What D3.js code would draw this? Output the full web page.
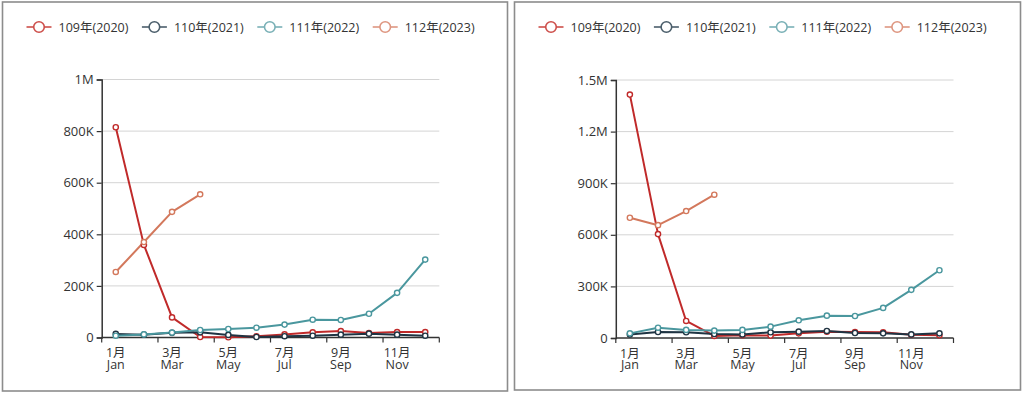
<!DOCTYPE html>
<html><head><meta charset="utf-8">
<script src="https://cdn.jsdelivr.net/npm/d3@7/dist/d3.min.js"></script>
<style>
html,body{margin:0;padding:0;background:#fff;}
svg{display:block;font-family:"Open Sans","Noto Sans CJK SC",sans-serif;}
</style></head>
<body>
<svg id="c" width="1024" height="394"></svg>
<script>
const monthsZh = ["1月","2月","3月","4月","5月","6月","7月","8月","9月","10月","11月","12月"];
const monthsEn = ["Jan","Feb","Mar","Apr","May","Jun","Jul","Aug","Sep","Oct","Nov","Dec"];
const seriesNames = ["109年(2020)","110年(2021)","111年(2022)","112年(2023)"];
const lineColors = ["#c02a2a","#1f3443","#4a979e","#d3785c"];
const legendColors = ["#cd4e4a","#4b5e6b","#79b0b6","#de9680"];

// Left chart values
const left2020 = [815000,359000,78000,2000,1000,5000,12000,20000,25000,17000,21000,21000];
const left2021 = [14000,11000,18000,20000,10000,2000,5000,7000,11000,15000,11000,7000];
const left2022 = [7000,12000,19000,29000,33000,38000,50000,69000,68000,92000,173000,302000];
const left2023 = [254000,370000,487000,555000];
const leftTicks = [0,200000,400000,600000,800000,1000000];
const leftTickLabels = ["0","200K","400K","600K","800K","1M"];

// Right chart values
const right2020 = [1415000,604000,99000,12000,16000,14000,27000,37000,35000,33000,19000,16000];
const right2021 = [21000,35000,33000,23000,21000,33000,37000,41000,29000,27000,21000,27000];
const right2022 = [27000,60000,47000,43000,47000,66000,103000,130000,128000,175000,280000,394000];
const right2023 = [699000,656000,738000,833000];
const rightTicks = [0,300000,600000,900000,1200000,1500000];
const rightTickLabels = ["0","300K","600K","900K","1.2M","1.5M"];

const svg = d3.select("#c");

function panel(ox, w, h, values, ticks, tickLabels, x0, x1, yT, yB) {
  const g = svg.append("g").attr("transform", `translate(${ox},0)`);
  g.append("rect").attr("x", 0).attr("y", 2).attr("width", w).attr("height", h)
    .attr("fill", "#fff").attr("stroke", "#8c8c8c").attr("stroke-width", 1.6);

  // legend
  const legStart = 24;
  const legGap = 115.4;
  seriesNames.forEach((n, i) => {
    const lx = legStart + i * legGap;
    const lg = g.append("g").attr("transform", `translate(${lx},27)`);
    lg.append("line").attr("x1", 0).attr("x2", 25).attr("y1", 0).attr("y2", 0)
      .attr("stroke", legendColors[i]).attr("stroke-width", 1.6);
    lg.append("circle").attr("cx", 12.5).attr("cy", 0).attr("r", 5.3)
      .attr("fill", "#fff").attr("stroke", legendColors[i]).attr("stroke-width", 1.6);
    lg.append("text").attr("x", 32).attr("y", 4.5).attr("font-size", 12.5)
      .attr("fill", "#333").text(n);
  });

  const x = d3.scaleBand().domain(d3.range(12)).range([x0 - ox, x1 - ox]).padding(0);
  const y = d3.scaleLinear().domain([0, ticks[ticks.length - 1]]).range([yB, yT]);

  // grid
  g.append("g").selectAll("line").data(ticks.slice(1)).join("line")
    .attr("x1", x0 - ox).attr("x2", x1 - ox)
    .attr("y1", d => y(d)).attr("y2", d => y(d))
    .attr("stroke", "#d4d4d4").attr("stroke-width", 1);

  // y axis
  const yAxis = d3.axisLeft(y).tickValues(ticks).tickFormat((d, i) => tickLabels[i])
    .tickSize(5).tickPadding(3);
  const ya = g.append("g").attr("transform", `translate(${x0 - ox},0)`).call(yAxis);
  ya.select(".domain").attr("stroke", "#333").attr("stroke-width", 1.5);
  ya.selectAll(".tick line").attr("stroke", "#333").attr("stroke-width", 1.2);
  ya.selectAll(".tick text").attr("font-size", 13).attr("fill", "#333")
    .attr("font-family", "'Open Sans','Noto Sans CJK SC',sans-serif");

  // x axis
  const xa = g.append("g").attr("transform", `translate(0,${yB})`);
  xa.append("line").attr("x1", x0 - ox).attr("x2", x1 - ox).attr("stroke", "#333").attr("stroke-width", 1.5);
  const bounds = d3.range(0, 13, 2);
  xa.selectAll("line.tk").data(bounds).join("line").attr("class", "tk")
    .attr("x1", d => d < 12 ? x(d) : x(11) + x.bandwidth())
    .attr("x2", d => d < 12 ? x(d) : x(11) + x.bandwidth())
    .attr("y1", 0).attr("y2", 5).attr("stroke", "#333").attr("stroke-width", 1.2);
  const lab = xa.selectAll("text").data(d3.range(0, 12, 2)).join("text")
    .attr("text-anchor", "middle").attr("font-size", 12.5).attr("fill", "#333");
  lab.append("tspan").attr("x", d => x(d) + x.bandwidth() / 2).attr("y", 19.5).text(d => monthsZh[d]);
  lab.append("tspan").attr("x", d => x(d) + x.bandwidth() / 2).attr("y", 31).text(d => monthsEn[d]);

  const line = d3.line().x((d, i) => x(i) + x.bandwidth() / 2).y(d => y(d));
  values.forEach((vals, si) => {
    g.append("path").datum(vals).attr("d", line).attr("fill", "none")
      .attr("stroke", lineColors[si]).attr("stroke-width", 2).attr("stroke-linejoin", "round");
  });
  values.forEach((vals, si) => {
    g.append("g").selectAll("circle").data(vals).join("circle")
      .attr("cx", (d, i) => x(i) + x.bandwidth() / 2).attr("cy", d => y(d)).attr("r", 2.6)
      .attr("fill", "#fff").attr("stroke", lineColors[si]).attr("stroke-width", 1.4);
  });
}

panel(2.5, 505, 389, [left2020, left2021, left2022, left2023], leftTicks, leftTickLabels, 101.7, 439.3, 79.5, 337.5);
panel(514.5, 506, 388, [right2020, right2021, right2022, right2023], rightTicks, rightTickLabels, 615.8, 953.5, 80, 338);
</script>
</body></html>
